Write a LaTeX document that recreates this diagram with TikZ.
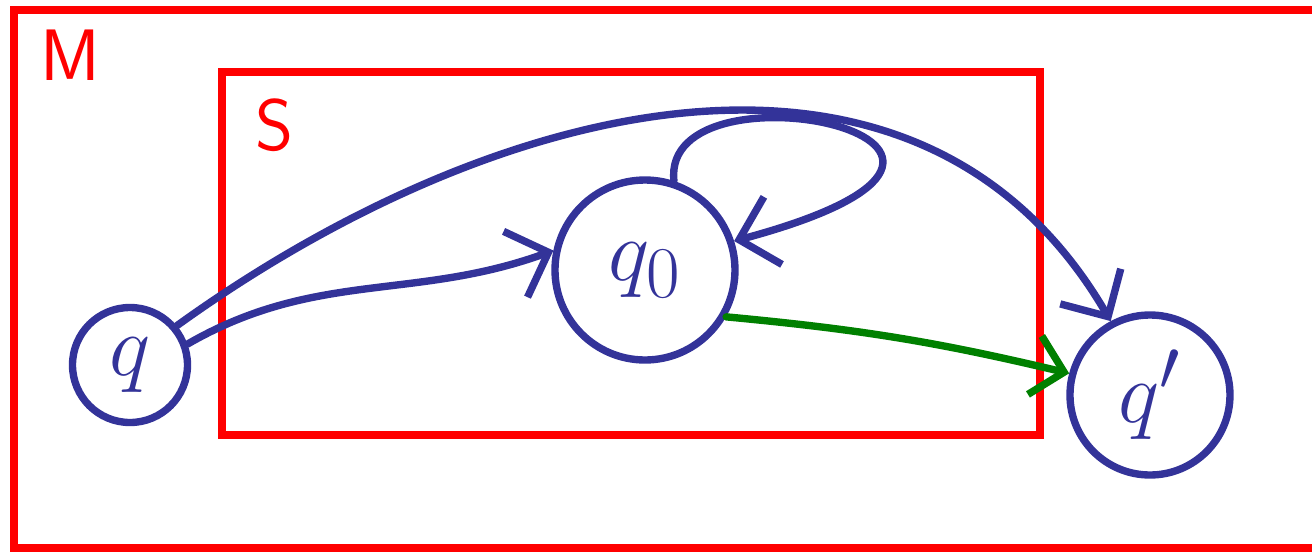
\documentclass[tikz,border=0pt]{standalone}
\usepackage{xcolor}
\usepackage{amsmath}
\usepackage{tikz}
\usetikzlibrary{arrows.meta}

\definecolor{penblue}{RGB}{51,51,153}
\definecolor{penred}{RGB}{255,0,0}
\definecolor{pengreen}{RGB}{0,128,0}

\begin{document}
\begin{tikzpicture}[
    region/.style={draw=penred, line width=2.3pt},
    regionlabel/.style={text=penred, font=\sffamily\huge},
    statenode/.style={circle, draw=penblue, line width=2.1pt, inner sep=0pt, text=penblue, font=\fontsize{28}{30}\selectfont},
    arr/.style={-{Straight Barb[length=3.5mm, width=7mm]}, draw=penblue, line width=2.1pt, line cap=round},
    greenarr/.style={-{Straight Barb[length=3mm, width=6mm]}, draw=pengreen, line width=2.1pt, line cap=round}
]
\useasboundingbox (0,0) rectangle (13.12,5.53);

% Regions
\draw[region] (0.14,0.05) rectangle (13.40,5.43);
\draw[region] (2.22,1.18) rectangle (10.40,4.81);
\node[regionlabel] (mlabel) at (0.70,4.98) {M};
\node[regionlabel] (slabel) at (2.75,4.28) {S};

% States
\node[statenode, minimum size=1.15cm] (q)      at (1.30,1.88) {$q$};
\node[statenode, minimum size=1.80cm] (qzero)  at (6.45,2.83) {$q_0$};
\node[statenode, minimum size=1.60cm] (qprime) at (11.50,1.58) {$q'$};

% Transitions
\draw[arr] (q.20) to[out=30, in=200] (qzero.168);
\draw[arr] (q.40) .. controls (5.0,4.6) and (9.2,5.6) .. (qprime.118);
\draw[arr] (qzero.72) .. controls (6.6,5.0) and (11.0,4.1) .. (qzero.18);
\draw[greenarr] (qzero.-30) to[bend left=4] (qprime.165);
\end{tikzpicture}
\end{document}
